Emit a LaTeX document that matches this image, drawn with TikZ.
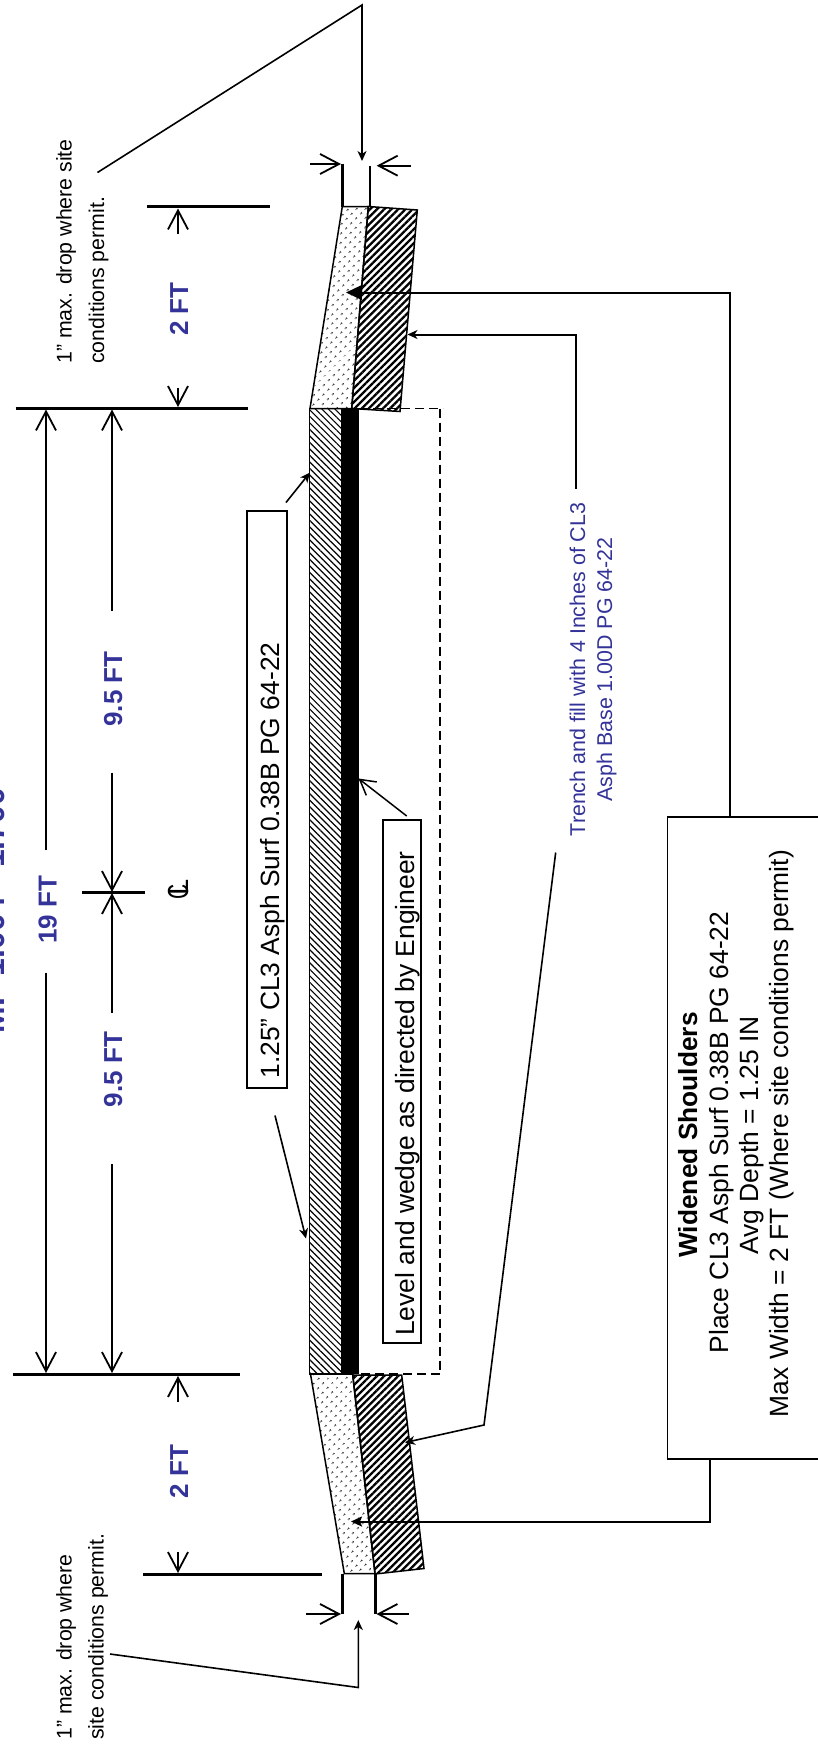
\documentclass[tikz,border=0pt]{standalone}
\usepackage{fontspec}
\setmainfont{Liberation Sans}
\usetikzlibrary{arrows.meta,patterns.meta}
\definecolor{dimblue}{RGB}{51,51,153}
\newcommand{\fs}[1]{\fontsize{#1}{#1}\selectfont}
\tikzset{
    lbl/.style={rotate=90,inner sep=0pt,anchor=base},
    lblw/.style={rotate=90,inner sep=0pt,anchor=base west},
    dim/.style={lbl,text=dimblue,font=\fs{26}\bfseries},
    note/.style={lblw,font=\fs{21.3}},
    trench/.style={lbl,text=dimblue,font=\fs{21.4}},
    callout/.style={lbl,font=\fs{26.4}},
    labelbox/.style={draw,line width=1.6pt,inner sep=0pt,fill=white},
    heavy/.style={line width=2.8pt},
    dimline/.style={line width=1.8pt},
    barb/.style={dimline,-{Straight Barb[length=19pt,width=20pt]}},
    smallarrow/.style={line width=1.6pt,-{Stealth[length=10pt,width=9pt,inset=3pt]}},
    feedline/.style={line width=2pt},
    dots/.style={draw,line width=1.5pt,pattern={Dots[angle=45,distance=6.5pt,radius=1pt]}},
    base/.style={draw,line width=1.5pt,pattern={Lines[angle=45,distance=5pt,line width=2.3pt]}},
    surf/.style={draw,line width=1.5pt,pattern={Lines[angle=-45,distance=4.6pt,line width=1.2pt]}},
}
\begin{document}
\begin{tikzpicture}[x=1pt,y=-1pt]
    \useasboundingbox (0,0) rectangle (817,1746);
    \node[lbl,text=dimblue,font=\fs{32}\bfseries] (title) at (5,910.5) {MP 1.004 - 1.700};

    % pavement
    \draw[surf] (309.5,408.5) rectangle (342,1374);
    \fill (342,408.5) rectangle (359,1374);
    \draw[dash pattern=on 9pt off 5pt,line width=1.7pt] (359,408.5) -- (443,408.5);
    \draw[dash pattern=on 9pt off 5pt,line width=1.7pt] (440,408.5) -- (440,1374) -- (359,1374);

    % shoulders
    \draw[dots] (342.3,206.5) -- (368.3,206.5) -- (351.7,408.5) -- (310,408.5) -- cycle;
    \draw[base] (368.3,206.5) -- (417.3,210) -- (400,411.5) -- (351.7,408.5) -- cycle;
    \draw[dots] (310.5,1374) -- (352.7,1374) -- (375,1573.5) -- (344.3,1573.5) -- cycle;
    \draw[base] (352.7,1375) -- (401.7,1375) -- (424,1568.5) -- (375,1574) -- cycle;

    % heavy extension lines
    \draw[heavy] (147,206.5) -- (269.5,206.5);
    \draw[heavy] (15.5,408.5) -- (247.5,408.5);
    \draw[heavy] (82,892.5) -- (145,892.5);
    \draw[heavy] (13,1374.5) -- (240,1374.5);
    \draw[heavy] (143,1574.5) -- (321.5,1574.5);
    \draw[heavy] (342.3,206.5) -- (342.3,164);
    \draw[heavy] (370,206.5) -- (370,166);
    \draw[heavy] (342.3,1574) -- (342.3,1613.5);
    \draw[heavy] (375.3,1574) -- (375.3,1613.5);

    % dimensions
    \draw[barb] (46,850) -- (46,409.5);
    \draw[barb] (46,972.5) -- (46,1373);
    \draw[barb] (112,611) -- (112,409.5);
    \draw[barb] (112,772.5) -- (112,892);
    \draw[barb] (112,1012.5) -- (112,893);
    \draw[barb] (112,1164) -- (112,1373);
    \draw[barb] (178,233.5) -- (178,208.5);
    \draw[barb] (178,387.5) -- (178,407);
    \draw[barb] (178,1401.5) -- (178,1376);
    \draw[barb] (178,1551.5) -- (178,1573);
    \draw[barb] (310,164) -- (341,164);
    \draw[barb] (410.7,165.7) -- (376.7,165.7);
    \draw[barb] (306,1614) -- (341,1614);
    \draw[barb] (408.7,1614) -- (376.5,1614);

    \node[dim] (dimA) at (56.5,910) {19 FT};
    \node[dim] (dimB) at (122,689) {9.5 FT};
    \node[dim] (dimC) at (122,1069.5) {9.5 FT};
    \node[dim] (dimD) at (188,309) {2 FT};
    \node[dim] (dimE) at (188,1471.5) {2 FT};
    \node[lbl,font=\fs{29}] (cline) at (188,889) {\scalebox{.72}[1]{C}\kern-11pt L};

    % notes at the ends
    \node[note] (noteA) at (71.5,364) {1" max. drop where site};
    \node[note] (noteB) at (104,364) {conditions permit.};
    \node[note] (noteC) at (71.5,1740) {1" max. drop where};
    \node[note] (noteD) at (103.5,1740) {site conditions permit.};
    \coordinate (noteBend) at (97.5,172.5);
    \coordinate (noteKnee) at (362,5);
    \coordinate (noteTip) at (362,161);
    \draw[smallarrow] (noteBend) -- (noteKnee) -- (noteTip);
    \coordinate (noteDend) at (110,1654);
    \coordinate (noteLow) at (358.3,1687.5);
    \coordinate (noteLowTip) at (358.3,1620);
    \draw[smallarrow] (noteDend) -- (noteLow) -- (noteLowTip);

    % callout boxes
    \node[labelbox,minimum width=39.5pt,minimum height=577pt] (surfbox) at (267,799.5) {};
    \node[callout] (surftext) at (279,860.5) {1.25" CL3 Asph Surf 0.38B PG 64-22};
    \node[labelbox,minimum width=37.5pt,minimum height=523pt] (levelbox) at (402,1081.5) {};
    \node[callout] (leveltext) at (414,1093.5) {Level and wedge as directed by Engineer};
    \coordinate (surfA) at (286,502.5);
    \coordinate (surfB) at (275,1115.5);
    \draw[smallarrow] (surfA) -- (310,472.5);
    \draw[smallarrow] (surfB) -- (306,1238.5);
    \draw[line width=1.5pt,-{Straight Barb[length=15pt,width=17pt]}] (406.7,816) -- (358.5,778.5);

    % trench note
    \node[trench] (trenchA) at (585,669.5) {Trench and fill with 4 Inches of CL3};
    \node[trench] (trenchB) at (612,669.5) {Asph Base 1.00D PG 64-22};
    \coordinate (trenchUp) at (575.5,488.5);
    \coordinate (trenchLow) at (555.7,852.5);
    \draw[smallarrow,feedline] (trenchUp) -- (575.5,334.5) -- (407.5,334.5);
    \draw[smallarrow] (trenchLow) -- (484,1425) -- (405,1442.5);

    % shoulders box
    \node[labelbox,minimum width=170pt,minimum height=642pt,anchor=north west] (widebox) at (666.5,816) {};
    \node[lbl,font=\fs{26.3}\bfseries] (wideA) at (697,1135) {Widened Shoulders};
    \node[lbl,font=\fs{26.4}] (wideB) at (728,1132.5) {Place CL3 Asph Surf 0.38B PG 64-22};
    \node[lbl,font=\fs{26.4}] (wideC) at (758,1135.5) {Avg Depth = 1.25 IN};
    \node[lbl,font=\fs{26.4}] (wideD) at (788,1133.5) {Max Width = 2 FT (Where site conditions permit)};
    \draw[feedline,-{Stealth[length=16pt,width=15pt,inset=1pt]}] (widebox.north west -| 730,0) -- (730,292.5) -- (346,292.5);
    \draw[feedline,-{Stealth[length=11pt,width=10pt,inset=2pt]}] (widebox.south west -| 709.5,0) -- (709.5,1521.5) -- (351,1521.5);
\end{tikzpicture}
\end{document}
